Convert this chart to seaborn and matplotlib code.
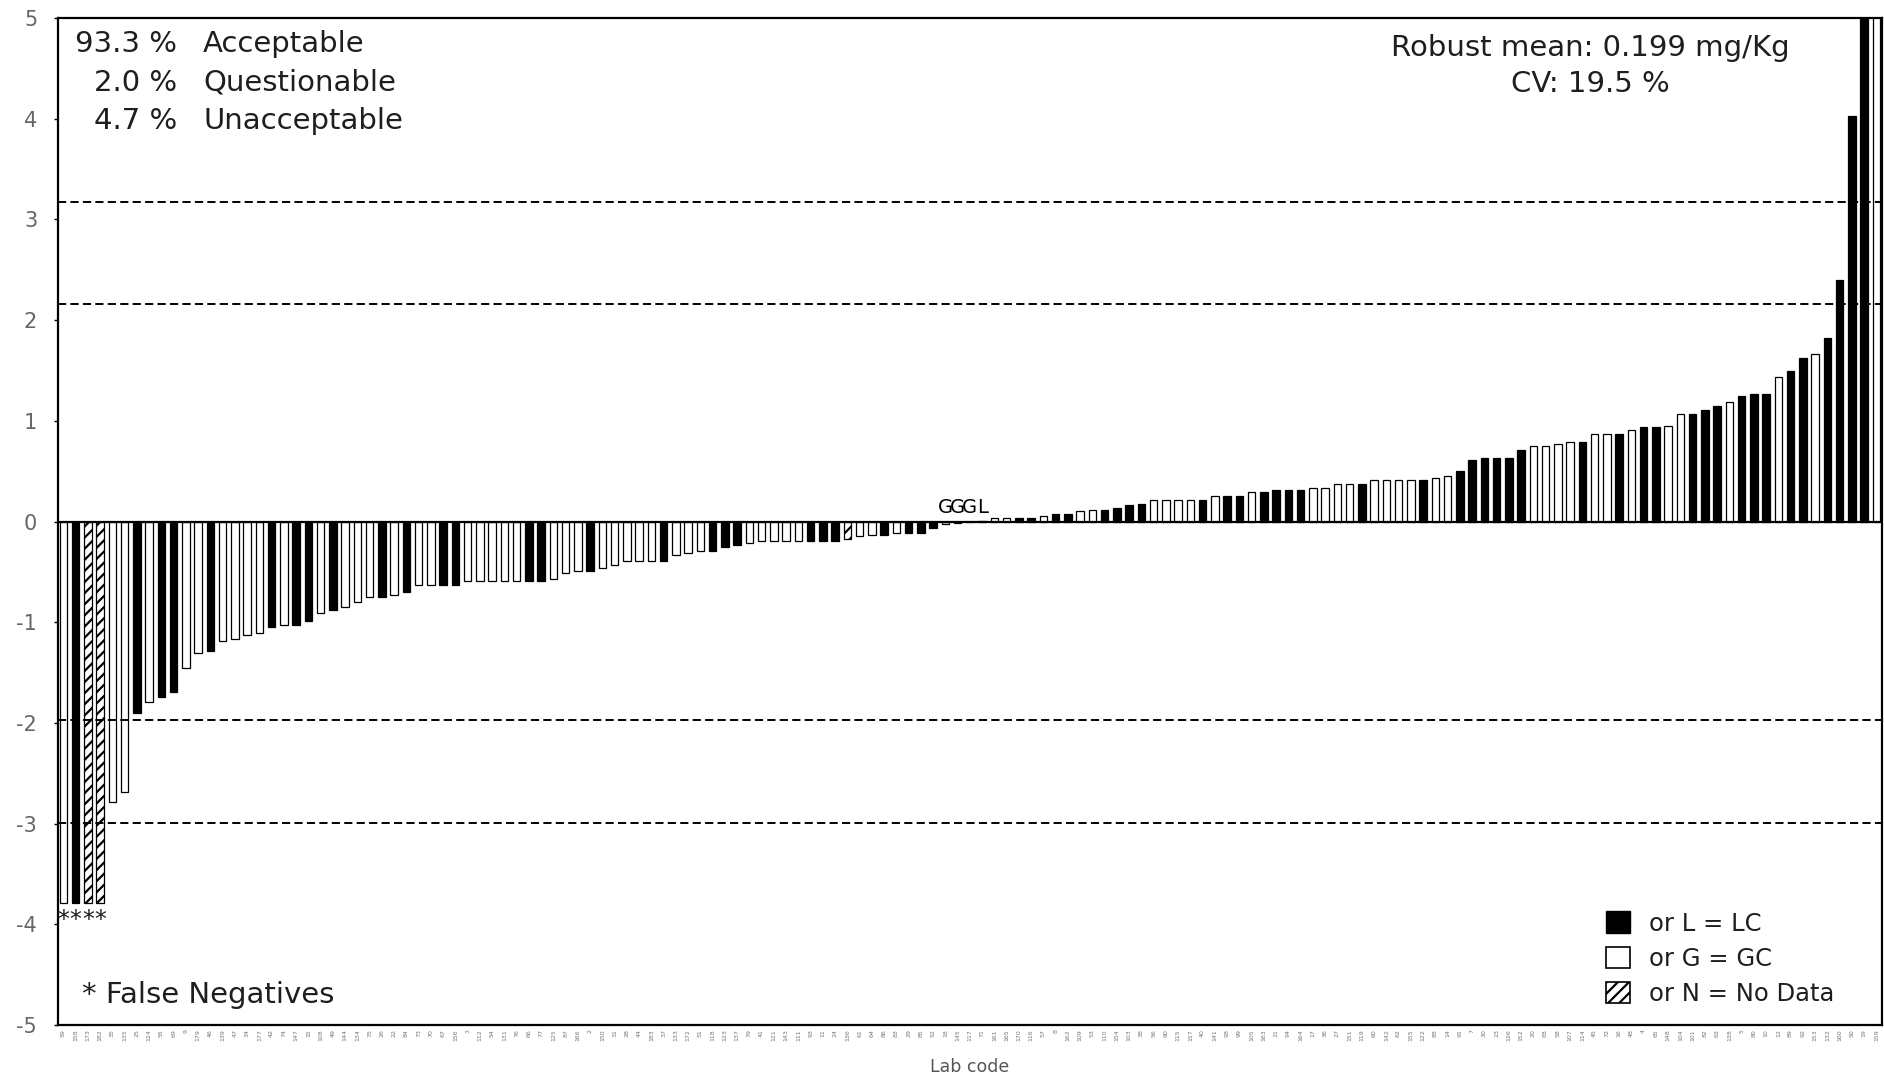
import numpy as np
import pandas as pd
import matplotlib
matplotlib.use("Agg")
import matplotlib.pyplot as plt
import seaborn as sns
from matplotlib.patches import Patch

# ---------------- data ----------------
lab_codes = ["59", "158", "173", "182", "35", "135", "25", "124", "55", "69",
             "9", "179", "46", "139", "47", "34", "177", "42", "74", "147",
             "15", "108", "49", "144", "134", "75", "26", "22", "84", "73",
             "70", "67", "156", "3", "112", "54", "131", "76", "66", "77",
             "125", "87", "166", "2", "150", "31", "28", "44", "183", "37",
             "133", "172", "51", "118", "123", "137", "79", "41", "121", "143",
             "111", "93", "11", "24", "136", "61", "64", "86", "83", "29",
             "85", "52", "18", "145", "117", "71", "161", "165", "170", "116",
             "57", "8", "162", "109", "53", "110", "154", "103", "38", "56",
             "90", "115", "157", "40", "141", "98", "99", "105", "163", "21",
             "94", "164", "17", "36", "27", "151", "119", "60", "142", "62",
             "155", "122", "88", "14", "91", "7", "30", "23", "126", "152",
             "20", "68", "58", "107", "114", "45", "72", "16", "48", "4",
             "65", "148", "104", "101", "82", "63", "138", "5", "80", "10",
             "12", "89", "92", "153", "132", "160", "50", "19", "159"]

z_scores = [-3.79, -3.79, -3.79, -3.79, -2.79, -2.69, -1.90, -1.79, -1.74, -1.69,
            -1.45, -1.31, -1.29, -1.19, -1.17, -1.13, -1.11, -1.05, -1.03, -1.03,
            -0.99, -0.91, -0.88, -0.85, -0.80, -0.75, -0.75, -0.73, -0.70, -0.63,
            -0.63, -0.63, -0.63, -0.59, -0.59, -0.59, -0.59, -0.59, -0.59, -0.59,
            -0.57, -0.51, -0.49, -0.49, -0.46, -0.43, -0.39, -0.39, -0.39, -0.39,
            -0.33, -0.31, -0.29, -0.29, -0.25, -0.23, -0.21, -0.19, -0.19, -0.19,
            -0.19, -0.19, -0.19, -0.19, -0.17, -0.14, -0.13, -0.13, -0.11, -0.11,
            -0.11, -0.06, -0.02, -0.01, -0.005, 0.005, 0.03, 0.03, 0.03, 0.03,
            0.05, 0.075, 0.075, 0.10, 0.11, 0.115, 0.135, 0.16, 0.175, 0.21,
            0.21, 0.21, 0.21, 0.21, 0.255, 0.255, 0.255, 0.295, 0.295, 0.315,
            0.315, 0.315, 0.33, 0.33, 0.375, 0.375, 0.375, 0.41, 0.41, 0.41,
            0.41, 0.41, 0.43, 0.45, 0.50, 0.61, 0.63, 0.63, 0.63, 0.71,
            0.75, 0.75, 0.77, 0.79, 0.79, 0.87, 0.87, 0.87, 0.91, 0.935,
            0.935, 0.95, 1.07, 1.07, 1.11, 1.15, 1.19, 1.25, 1.27, 1.27,
            1.43, 1.49, 1.62, 1.665, 1.82, 2.395, 4.03, 5.5, 5.5]

# L = LC (black), G = GC (white), N = No Data (hatched)
technique = ["G", "L", "N", "N", "G", "G", "L", "G", "L", "L",
             "G", "G", "L", "G", "G", "G", "G", "L", "G", "L",
             "L", "G", "L", "G", "G", "G", "L", "G", "L", "G",
             "G", "L", "L", "G", "G", "G", "G", "G", "L", "L",
             "G", "G", "G", "L", "G", "G", "G", "G", "G", "L",
             "G", "G", "G", "L", "L", "L", "G", "G", "G", "G",
             "G", "L", "L", "L", "N", "G", "G", "L", "G", "L",
             "L", "L", "G", "G", "G", "L", "G", "G", "L", "L",
             "G", "L", "L", "G", "G", "L", "L", "L", "L", "G",
             "G", "G", "G", "L", "G", "L", "L", "G", "L", "L",
             "L", "L", "G", "G", "G", "G", "L", "G", "G", "G",
             "G", "L", "G", "G", "L", "L", "L", "L", "L", "L",
             "G", "G", "G", "G", "L", "G", "G", "L", "G", "L",
             "L", "G", "G", "L", "L", "L", "G", "L", "L", "L",
             "G", "L", "L", "G", "L", "L", "L", "L", "G"]

acceptance_pct = ["93.3 %", "2.0 %", "4.7 %"]
acceptance_labels = ["Acceptable", "Questionable", "Unacceptable"]
summary_lines = ["Robust mean: 0.199 mg/Kg", "CV: 19.5 %"]
limit_values = [3.17, 2.16, -1.97, -2.99]
near_zero_codes = ["18", "145", "117", "71"]
false_negative_codes = ["59", "158", "173", "182"]
legend_labels = ["or L = LC", "or G = GC", "or N = No Data"]

# ---------------- style ----------------
sns.set_theme(style="white")
plt.rcParams["font.family"] = ["DejaVu Sans"]
plt.rcParams["axes.unicode_minus"] = False
plt.rcParams["hatch.linewidth"] = 1.6
plt.rcParams["hatch.color"] = "black"

W, H = 1884, 1081
fig = plt.figure(figsize=(W / 100, H / 100), dpi=100)
ax = fig.add_axes([58 / W, 1 - 1025 / H, 1824 / W, 1007 / H])

df = pd.DataFrame({"code": lab_codes, "z": z_scores, "tech": technique})
palette = {"L": "black", "G": "white", "N": "white"}
sns.barplot(data=df, x="code", y="z", hue="tech", order=lab_codes,
            hue_order=["L", "G", "N"], palette=palette, dodge=False,
            width=0.6, edgecolor="black", linewidth=0.9, errorbar=None,
            legend=False, saturation=1, ax=ax)

# hatch the "No Data" bars
for p in ax.patches:
    idx = int(round(p.get_x() + p.get_width() / 2))
    if 0 <= idx < len(technique) and technique[idx] == "N":
        p.set_hatch("///")

ax.set_xlim(-0.44, len(lab_codes) - 1 + 0.46)
ax.set_ylim(-5, 5)
ax.set_yticks(range(-5, 6))

ax.axhline(0, color="black", lw=1.6, zorder=3)
for v in limit_values:
    ax.axhline(v, color="black", lw=1.4, linestyle=(0, (4.2, 2.2)), zorder=3)

for s in ax.spines.values():
    s.set_visible(True)
    s.set_color("black")
    s.set_linewidth(1.6)

ax.tick_params(axis="y", left=True, length=3, width=1, color="black",
               labelsize=15, labelcolor="#666666", pad=12)
ax.tick_params(axis="x", bottom=False, length=0, labelsize=4.5,
               labelcolor="#777777", labelrotation=90, pad=3)
ax.set_xlabel("Lab code", fontsize=12.5, color="#555555", labelpad=12)
ax.set_ylabel("")

TXT = "#1e1e1e"
# text annotations
for i, (pct, lab) in enumerate(zip(acceptance_pct, acceptance_labels)):
    y = [0.974, 0.9355, 0.8977][i]
    ax.text(0.0652, y, pct, transform=ax.transAxes, ha="right", va="center",
            fontsize=21, color=TXT)
    ax.text(0.0795, y, lab, transform=ax.transAxes, ha="left", va="center",
            fontsize=21, color=TXT)

for i, line in enumerate(summary_lines):
    ax.text(0.840, [0.970, 0.9345][i], line, transform=ax.transAxes,
            ha="center", va="center", fontsize=21, color=TXT)

ax.text(0.0132, 0.0298, "* False Negatives", transform=ax.transAxes,
        ha="left", va="center", fontsize=21, color=TXT)

# stars under false negatives
for c in false_negative_codes:
    i = lab_codes.index(c)
    ax.text(i, z_scores[i] - 0.05, "*", ha="center", va="top",
            fontsize=17, color=TXT)

# letters for near-zero bars
for c in near_zero_codes:
    i = lab_codes.index(c)
    ax.text(i, 0.04, technique[i], ha="center", va="bottom",
            fontsize=14, color="black")

# legend
handles = [Patch(facecolor="black", edgecolor="black"),
           Patch(facecolor="white", edgecolor="black", linewidth=1.2),
           Patch(facecolor="white", edgecolor="black", hatch="///", linewidth=1.2)]
ax.legend(handles, legend_labels, loc="lower left",
          bbox_to_anchor=(0.8487, 0.019), frameon=False, fontsize=17.5,
          handlelength=1.0, handleheight=1.0, handletextpad=0.75,
          labelspacing=0.45, borderpad=0, borderaxespad=0,
          labelcolor=TXT)

fig.savefig("out.png", dpi=100)
